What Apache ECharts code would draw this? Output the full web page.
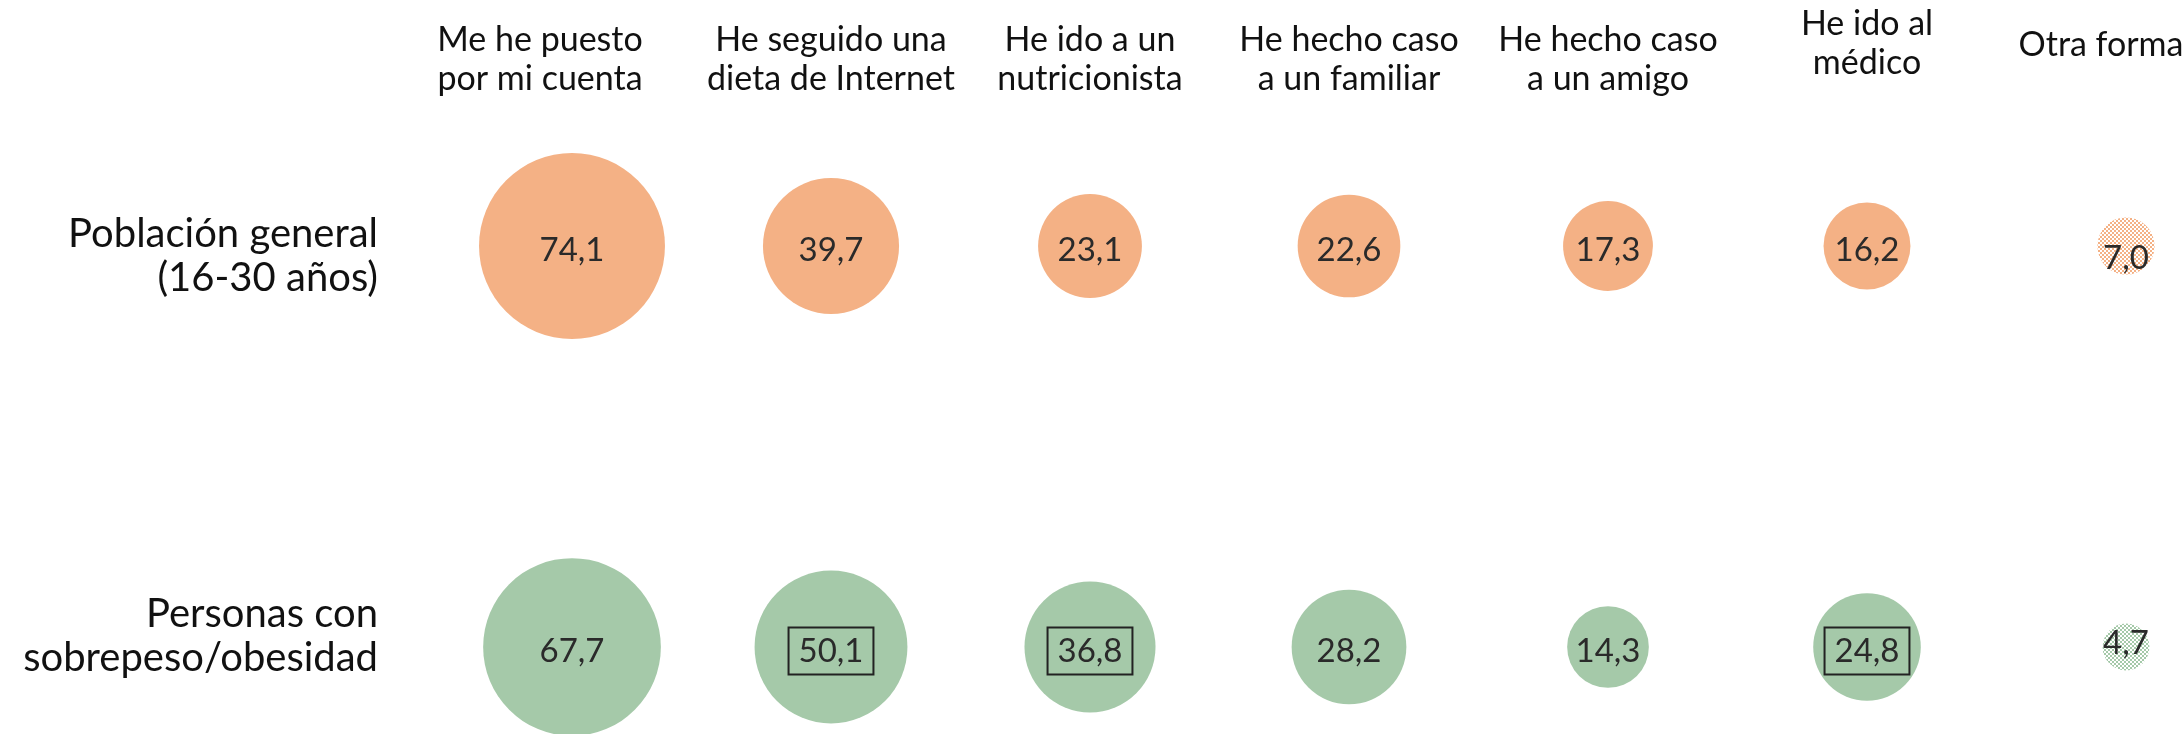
<!DOCTYPE html>
<html>
<head>
<meta charset="utf-8">
<script src="https://cdn.jsdelivr.net/npm/echarts@6/dist/echarts.min.js"></script>
<style>
  html, body { margin: 0; padding: 0; background: #fff; }
  #main { width: 2182px; height: 734px; }
</style>
</head>
<body>
<div id="main"></div>
<script>
// categories (columns) and groups (rows)
var categories = [
  'Me he puesto\npor mi cuenta',
  'He seguido una\ndieta de Internet',
  'He ido a un\nnutricionista',
  'He hecho caso\na un familiar',
  'He hecho caso\na un amigo',
  'He ido al\nmédico',
  'Otra forma'
];
var groups = ['Población general\n(16-30 años)', 'Personas con\nsobrepeso/obesidad'];

var generalValues = [74.1, 39.7, 23.1, 22.6, 17.3, 16.2, 7.0];
var obesityValues = [67.7, 50.1, 36.8, 28.2, 14.3, 24.8, 4.7];

// columns highlighted with a box in the second row, and the hatched column
var boxedObesity = [1, 2, 5];
var hatchedColumn = 6;

var ORANGE = '#F4B185';
var GREEN = '#A5C9A9';
var FONT = 'Lato';
var SIZE_K = 21.6;

var chart = echarts.init(document.getElementById('main'));

function fmt(v) {
  return v.toFixed(1).replace('.', ',');
}

function bubbleSize(v) {
  return SIZE_K * Math.sqrt(v);
}

// small checkerboard tile used as a pattern fill; symbols are drawn in unit
// space and scaled, so the pattern is scaled back down
function checker(color, size) {
  var c = document.createElement('canvas');
  c.width = 4;
  c.height = 4;
  var ctx = c.getContext('2d');
  ctx.fillStyle = '#fff';
  ctx.fillRect(0, 0, 4, 4);
  ctx.fillStyle = color;
  ctx.fillRect(0, 0, 2, 2);
  ctx.fillRect(2, 2, 2, 2);
  var s = 2 / size;
  return { image: c, repeat: 'repeat', scaleX: s, scaleY: s };
}

function buildData(values, row, color, boxed) {
  return values.map(function (v, i) {
    var item = { value: [i, row, v] };
    if (i === hatchedColumn) {
      item.itemStyle = { color: checker(color, bubbleSize(v)) };
      item.label = { offset: row === 0 ? [0, 12] : [0, -4] };
    }
    if (boxed.indexOf(i) >= 0) {
      item.label = {
        borderColor: '#222',
        borderWidth: 2,
        padding: [11, 10, 3, 10]
      };
    }
    return item;
  });
}

// header offsets (the first and last headers sit a bit left of their column)
var xData = categories.map(function (c, i) {
  var item = { value: c };
  if (i === 0) item.textStyle = { padding: [0, 64, 0, 0] };
  if (i === 5) item.textStyle = { padding: [0, 0, 16, 0] };
  if (i === 6) item.textStyle = { padding: [0, 50, 34, 0] };
  return item;
});

var labelStyle = {
  show: true,
  position: 'inside',
  offset: [0, 4],
  color: '#2a2a2a',
  fontFamily: FONT,
  fontSize: 33,
  formatter: function (p) { return fmt(p.value[2]); }
};

var option = {
  animation: false,
  grid: {
    left: 572, right: 56, top: 246, bottom: 87,
    containLabel: false,
    outerBoundsMode: 'none'
  },
  xAxis: {
    type: 'category',
    position: 'top',
    boundaryGap: false,
    data: xData,
    axisLine: { show: false },
    axisTick: { show: false },
    splitLine: { show: false },
    axisLabel: {
      interval: 0,
      margin: 147,
      color: '#111',
      fontFamily: FONT,
      fontSize: 34,
      lineHeight: 39
    }
  },
  yAxis: {
    type: 'category',
    inverse: true,
    boundaryGap: false,
    data: groups,
    axisLine: { show: false },
    axisTick: { show: false },
    splitLine: { show: false },
    axisLabel: {
      margin: 194,
      align: 'right',
      color: '#111',
      fontFamily: FONT,
      fontSize: 40,
      lineHeight: 44,
      formatter: function (value, index) {
        var lines = value.split('\n').map(function (l) { return '{t|' + l + '}'; });
        if (index === 0) return '{s| }\n' + lines.join('\n');
        return lines.join('\n') + '\n{s2| }';
      },
      rich: {
        t: { fontFamily: FONT, fontSize: 40, lineHeight: 44, color: '#111', align: 'right' },
        s: { fontSize: 10, lineHeight: 20 },
        s2: { fontSize: 10, lineHeight: 22 }
      }
    }
  },
  series: [
    {
      name: groups[0],
      type: 'scatter',
      symbol: 'circle',
      symbolSize: function (d) { return bubbleSize(d[2]); },
      itemStyle: { color: ORANGE, opacity: 1 },
      label: labelStyle,
      emphasis: { disabled: true },
      data: buildData(generalValues, 0, ORANGE, [])
    },
    {
      name: groups[1],
      type: 'scatter',
      symbol: 'circle',
      symbolSize: function (d) { return bubbleSize(d[2]); },
      itemStyle: { color: GREEN, opacity: 1 },
      label: labelStyle,
      emphasis: { disabled: true },
      data: buildData(obesityValues, 1, GREEN, boxedObesity)
    }
  ]
};

chart.setOption(option);
</script>
</body>
</html>
